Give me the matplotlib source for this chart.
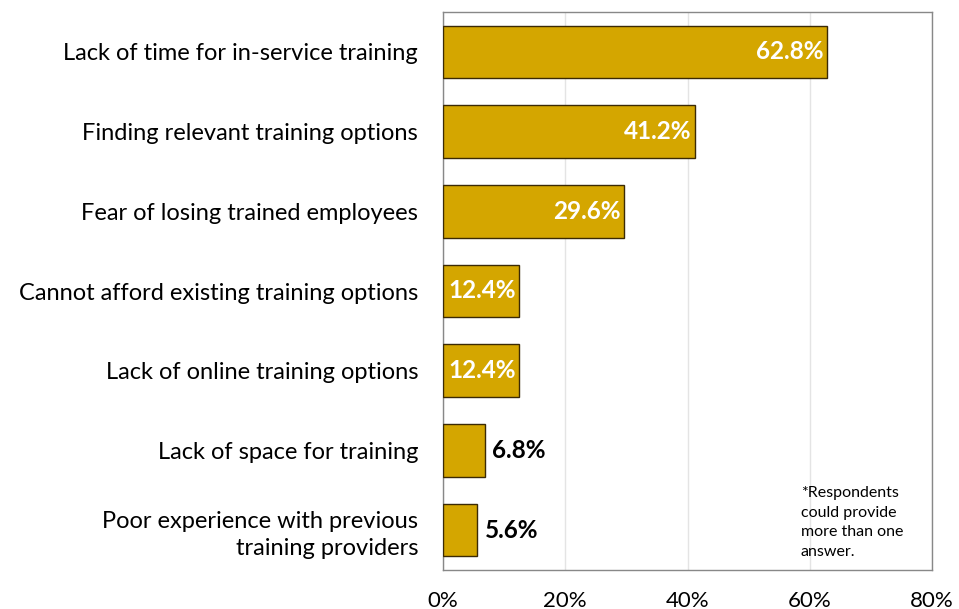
import numpy as np
import matplotlib.pyplot as plt

# Data
categories = [
    "Lack of time for in-service training",
    "Finding relevant training options",
    "Fear of losing trained employees",
    "Cannot afford existing training options",
    "Lack of online training options",
    "Lack of space for training",
    "Poor experience with previous\ntraining providers",
]
values = [62.8, 41.2, 29.6, 12.4, 12.4, 6.8, 5.6]
xticks = [0, 20, 40, 60, 80]

plt.rcParams["font.family"] = ["Lato", "DejaVu Sans"]

fig = plt.figure(figsize=(9.59, 6.09), dpi=100)
ax = fig.add_axes([443 / 959, 1 - 570 / 609, (932 - 443) / 959, (570 - 12) / 609])

ypos = np.arange(len(categories))
ax.barh(ypos, values, height=0.66, color="#D4A600", edgecolor="#3b2a05", linewidth=1.0, zorder=3)

# value labels: white inside for wide bars, black outside for narrow ones
for y, v in zip(ypos, values):
    if v > 10:
        ax.text(v - 0.5, y, f"{v:.1f}%", ha="right", va="center", color="white",
                fontsize=17.5, fontweight="bold", zorder=4)
    else:
        ax.text(v + 1.2, y, f"{v:.1f}%", ha="left", va="center", color="black",
                fontsize=17.5, fontweight="bold", zorder=4)

ax.set_xlim(0, 80)
ax.set_ylim(len(categories) - 0.5, -0.5)
ax.set_xticks(xticks)
ax.set_xticklabels([f"{t}%" for t in xticks], fontsize=16)
ax.set_yticks(ypos)
ax.set_yticklabels(categories, fontsize=17, linespacing=1.35)
ax.tick_params(axis="both", length=0)
ax.tick_params(axis="y", pad=18)
ax.tick_params(axis="x", pad=15)

ax.grid(axis="x", color="#e4e4e4", linewidth=1.0, zorder=0)
for s in ax.spines.values():
    s.set_color("#888888")
    s.set_linewidth(1.0)

ax.text(58.5, 5.45, "*Respondents\ncould provide\nmore than one\nanswer.", ha="left", va="top",
        fontsize=11.5, linespacing=1.5, zorder=4)

fig.savefig("out.png", dpi=100)
